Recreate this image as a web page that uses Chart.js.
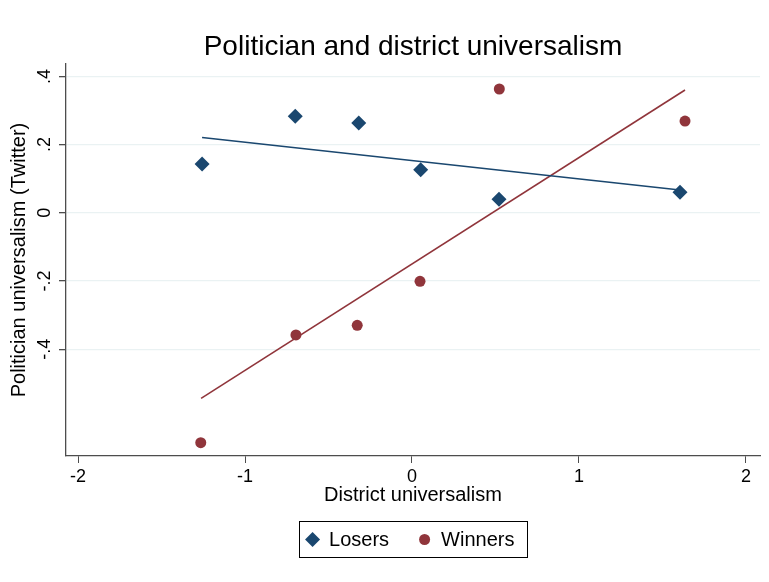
<!DOCTYPE html>
<html>
<head>
<meta charset="utf-8">
<script src="https://cdn.jsdelivr.net/npm/chart.js@4.4.1/dist/chart.umd.min.js"></script>
<style>
  body { margin: 0; background: #fff; }
  #wrap { width: 769px; height: 582px; }
</style>
</head>
<body>
<div id="wrap"><canvas id="uniChart"></canvas></div>
<script>
// values
const loserX = [-1.257, -0.699, -0.319, 0.052, 0.521, 1.605];
const loserY = [0.143, 0.283, 0.263, 0.126, 0.040, 0.060];
const winnerX = [-1.265, -0.695, -0.328, 0.048, 0.523, 1.635];
const winnerY = [-0.674, -0.358, -0.330, -0.201, 0.363, 0.269];

// fitted lines (end points)
const loserFitX = [-1.257, 1.605];
const loserFitY = [0.221, 0.067];
const winnerFitX = [-1.263, 1.635];
const winnerFitY = [-0.544, 0.360];

const xTicks = [-2, -1, 0, 1, 2];
const yTicks = [-0.4, -0.2, 0, 0.2, 0.4];
const yTickLabels = ['-.4', '-.2', '0', '.2', '.4'];

const navy = '#1a476f';
const maroon = '#90353b';
const axisColor = '#4d4d4d';
const font = 'Liberation Sans, Arial, sans-serif';

function toPoints(xs, ys) {
  return xs.map((x, i) => ({ x: x, y: ys[i] }));
}

// rotated y tick labels, Stata style
const yLabelPlugin = {
  id: 'yLabels',
  afterDraw(chart) {
    const ctx = chart.ctx;
    const y = chart.scales.y;
    ctx.save();
    ctx.fillStyle = '#000';
    ctx.font = '18px ' + font;
    ctx.textAlign = 'center';
    ctx.textBaseline = 'alphabetic';
    yTicks.forEach((v, i) => {
      ctx.save();
      ctx.translate(50, y.getPixelForValue(v));
      ctx.rotate(-Math.PI / 2);
      ctx.fillText(yTickLabels[i], 0, 0);
      ctx.restore();
    });
    ctx.restore();
  }
};

// boxed legend below the axis
const legendPlugin = {
  id: 'boxLegend',
  afterDraw(chart) {
    const ctx = chart.ctx;
    const area = chart.chartArea;
    const items = chart.data.datasets.filter(d => d.inLegend);
    ctx.save();
    ctx.font = '20px ' + font;
    const gap = 34.5, markW = 17.5;
    let total = 0;
    items.forEach((d, i) => {
      total += markW + ctx.measureText(d.label).width + (i ? gap : 0);
    });
    const padX = 12.5;
    const boxW = total + padX * 2;
    const boxH = 36;
    const cx = (area.left + area.right) / 2;
    const left = cx - boxW / 2;
    const top = 521.5;
    ctx.strokeStyle = '#000';
    ctx.lineWidth = 1;
    ctx.strokeRect(Math.round(left) + 0.5, top, Math.round(boxW), boxH);
    let x = left + padX;
    const my = top + boxH / 2;
    items.forEach((d, i) => {
      if (i) x += gap;
      ctx.fillStyle = d.backgroundColor;
      ctx.strokeStyle = d.backgroundColor;
      Chart.helpers.drawPoint(ctx, { pointStyle: d.pointStyle, radius: d.pointRadius, borderWidth: 0 }, x + 1, my);
      ctx.fillStyle = '#000';
      ctx.textAlign = 'left';
      ctx.textBaseline = 'middle';
      ctx.fillText(d.label, x + markW, my + 1);
      x += markW + ctx.measureText(d.label).width;
    });
    ctx.restore();
  }
};

const ctx = document.getElementById('uniChart').getContext('2d');
new Chart(ctx, {
  type: 'scatter',
  data: {
    datasets: [
      {
        label: 'Losers fit',
        type: 'line',
        data: toPoints(loserFitX, loserFitY),
        borderColor: navy,
        borderWidth: 1.6,
        pointRadius: 0,
        fill: false
      },
      {
        label: 'Winners fit',
        type: 'line',
        data: toPoints(winnerFitX, winnerFitY),
        borderColor: maroon,
        borderWidth: 1.6,
        pointRadius: 0,
        fill: false
      },
      {
        label: 'Losers',
        inLegend: true,
        data: toPoints(loserX, loserY),
        pointStyle: 'rectRot',
        pointRadius: 7.5,
        pointHoverRadius: 7.5,
        backgroundColor: navy,
        borderColor: navy,
        borderWidth: 0
      },
      {
        label: 'Winners',
        inLegend: true,
        data: toPoints(winnerX, winnerY),
        pointStyle: 'circle',
        pointRadius: 5.5,
        pointHoverRadius: 5.5,
        backgroundColor: maroon,
        borderColor: maroon,
        borderWidth: 0
      }
    ]
  },
  options: {
    responsive: true,
    maintainAspectRatio: false,
    animation: false,
    layout: { padding: { left: 0, right: 9, top: 0, bottom: 75 } },
    plugins: {
      legend: { display: false },
      tooltip: { enabled: false },
      title: {
        display: true,
        text: 'Politician and district universalism',
        color: '#000',
        fullSize: false,
        font: { family: font, size: 28, weight: 'normal' },
        padding: { top: 30.5, bottom: 0 }
      }
    },
    scales: {
      x: {
        type: 'linear',
        min: -2.072,
        max: 2.084,
        afterBuildTicks: s => { s.ticks = xTicks.map(v => ({ value: v })); },
        afterFit: s => { s.height = 51; },
        grid: { drawOnChartArea: false, tickLength: 7, tickColor: axisColor, color: axisColor },
        border: { color: axisColor, width: 1.3 },
        ticks: {
          color: '#000',
          padding: 3,
          maxRotation: 0,
          font: { family: font, size: 18 },
          callback: v => String(v)
        },
        title: {
          display: true,
          text: 'District universalism',
          color: '#000',
          font: { family: font, size: 20 },
          padding: { top: 0, bottom: 0 }
        }
      },
      y: {
        type: 'linear',
        min: -0.713,
        max: 0.436,
        afterBuildTicks: s => { s.ticks = yTicks.map(v => ({ value: v })); },
        afterFit: s => { s.width = 66; },
        grid: { color: '#eaf2f3', lineWidth: 1.3, tickLength: 7, tickColor: axisColor },
        border: { color: axisColor, width: 1.3 },
        ticks: { display: false },
        title: {
          display: true,
          text: 'Politician universalism (Twitter)',
          color: '#000',
          font: { family: font, size: 20 },
          padding: { top: 7, bottom: 0 }
        }
      }
    }
  },
  plugins: [yLabelPlugin, legendPlugin]
});
</script>
</body>
</html>
